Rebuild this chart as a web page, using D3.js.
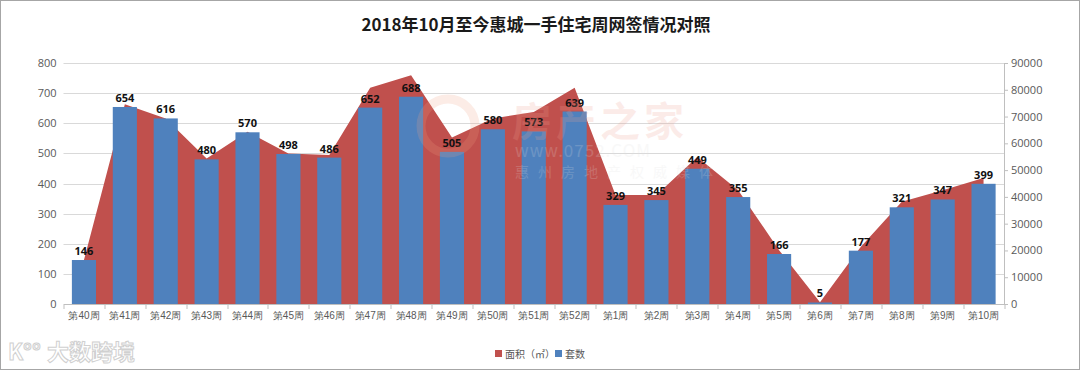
<!DOCTYPE html>
<html>
<head>
<meta charset="utf-8">
<script src="https://cdn.jsdelivr.net/npm/d3@7"></script>
<style>
  body { margin: 0; background: #fff; }
  svg { display: block; font-family: "Microsoft YaHei", "Noto Sans CJK SC", sans-serif; }
</style>
</head>
<body>
<svg id="chart" width="1080" height="371"></svg>
<script>
const weeks = ["第40周", "第41周", "第42周", "第43周", "第44周", "第45周", "第46周", "第47周",
  "第48周", "第49周", "第50周", "第51周", "第52周", "第1周", "第2周", "第3周", "第4周",
  "第5周", "第6周", "第7周", "第8周", "第9周", "第10周"];
// 套数 (left axis)
const units = [146, 654, 616, 480, 570, 498, 486, 652, 688, 505, 580, 573, 639,
  329, 345, 449, 355, 166, 5, 177, 321, 347, 399];
// 面积（㎡） (right axis)
const areas = [16400, 74600, 69300, 54300, 64300, 56200, 55600, 80800, 85400, 62200,
  69300, 71700, 80800, 40700, 40700, 54900, 42500, 20100, 700, 21400, 38200, 42500, 47100];
const leftTicks = [0, 100, 200, 300, 400, 500, 600, 700, 800];
const rightTicks = [0, 10000, 20000, 30000, 40000, 50000, 60000, 70000, 80000, 90000];

const MARGIN = { top: 63, right: 76, bottom: 67, left: 63.5 };
const W = 1080, H = 371;
const width = W - MARGIN.left - MARGIN.right;
const height = H - MARGIN.top - MARGIN.bottom;

const svg = d3.select("#chart");

// frame
svg.append("rect")
  .attr("x", 0.5).attr("y", 0.5)
  .attr("width", W - 1).attr("height", H - 2)
  .attr("fill", "#fff").attr("stroke", "#a6a6a6");

svg.append("text")
  .attr("x", 536).attr("y", 31)
  .attr("text-anchor", "middle")
  .style("font-size", "17px").style("font-weight", "bold").style("fill", "#1a1a1a")
  .text("2018年10月至今惠城一手住宅周网签情况对照");

const g = svg.append("g")
  .attr("transform", "translate(" + MARGIN.left + "," + MARGIN.top + ")");

let x = d3.scaleBand()
  .domain(weeks)
  .range([0, width])
  .paddingInner(0.41)
  .paddingOuter(0.205);

let yL = d3.scaleLinear().domain([0, 800]).range([height, 0]);
let yR = d3.scaleLinear().domain([0, 90000]).range([height, 0]);

// gridlines
g.append("g")
  .selectAll("line")
  .data(leftTicks.slice(1))
  .join("line")
  .attr("x1", 0).attr("x2", width)
  .attr("y1", d => Math.round(yL(d)) + 0.5).attr("y2", d => Math.round(yL(d)) + 0.5)
  .attr("stroke", "#d9d9d9");

// left axis
g.append("g")
  .call(d3.axisLeft(yL).tickValues(leftTicks).tickSize(0).tickPadding(7))
  .call(a => a.select(".domain").remove())
  .selectAll("text")
  .style("font-size", "11px").style("fill", "#595959").style("font-family", "'Open Sans', sans-serif");

// right axis
g.append("g")
  .attr("transform", "translate(" + width + ",0)")
  .call(d3.axisRight(yR).tickValues(rightTicks).tickFormat(d3.format("d")).tickSize(4).tickPadding(3))
  .call(a => a.select(".domain").attr("stroke", "#bfbfbf"))
  .call(a => a.selectAll(".tick line").attr("stroke", "#bfbfbf"))
  .selectAll("text")
  .style("font-size", "11px").style("fill", "#595959").style("font-family", "'Open Sans', sans-serif");

// area (面积)
const area = d3.area()
  .x((d, i) => x(weeks[i]) + x.bandwidth() / 2)
  .y0(height)
  .y1(d => yR(d));
g.append("path")
  .datum(areas)
  .attr("d", area)
  .attr("fill", "#c0504d");

// bars (套数)
g.selectAll(".bar")
  .data(units)
  .join("rect")
  .attr("class", "bar")
  .attr("x", (d, i) => x(weeks[i]))
  .attr("y", d => yL(d))
  .attr("width", x.bandwidth())
  .attr("height", d => height - yL(d))
  .attr("fill", "#4f81bd");

// bar value labels
g.selectAll(".lbl")
  .data(units)
  .join("text")
  .attr("class", "lbl")
  .attr("x", (d, i) => x(weeks[i]) + x.bandwidth() / 2)
  .attr("y", d => yL(d) - 5)
  .attr("text-anchor", "middle")
  .style("font-size", "11px").style("font-weight", "bold").style("fill", "#111")
  .style("font-family", "'Open Sans', sans-serif")
  .text(d => d);

// x axis
g.append("g")
  .attr("transform", "translate(0," + height + ")")
  .call(d3.axisBottom(x).tickSize(0).tickPadding(8))
  .call(a => a.select(".domain").attr("stroke", "#bfbfbf"))
  .selectAll("text")
  .style("font-size", "10px").style("fill", "#595959");

// category separators on x axis
g.append("g")
  .selectAll("line")
  .data(d3.range(weeks.length + 1))
  .join("line")
  .attr("x1", i => Math.round(x.step() * i) + 0.5)
  .attr("x2", i => Math.round(x.step() * i) + 0.5)
  .attr("y1", height).attr("y2", height + 5)
  .attr("stroke", "#bfbfbf");

// watermark, laid over the plot like in the screenshot
const wm = svg.append("g").attr("opacity", 0.2).style("pointer-events", "none");
wm.append("circle").attr("cx", 448).attr("cy", 126).attr("r", 27)
  .attr("fill", "none").attr("stroke", "#f0a080").attr("stroke-width", 9);
wm.append("text").attr("x", 512).attr("y", 136)
  .style("font-size", "40px").style("font-weight", "bold").style("letter-spacing", "4px")
  .style("fill", "#f0a090").text("房产之家");
wm.append("text").attr("x", 515).attr("y", 157)
  .style("font-size", "17px").style("letter-spacing", "1px").style("fill", "#e0e0e0").text("www.0752.COM");
wm.append("text").attr("x", 515).attr("y", 177)
  .style("font-size", "14px").style("letter-spacing", "9px").style("fill", "#e0e0e0").text("惠州房地产权威媒体");

// legend
const legend = svg.append("g").attr("transform", "translate(495,354)");
legend.append("rect").attr("x", 0).attr("y", -4).attr("width", 7).attr("height", 7).attr("fill", "#c0504d");
legend.append("text").attr("x", 10).attr("y", 3.5)
  .style("font-size", "10px").style("fill", "#595959").text("面积（㎡）");
legend.append("rect").attr("x", 60).attr("y", -4).attr("width", 7).attr("height", 7).attr("fill", "#4f81bd");
legend.append("text").attr("x", 70).attr("y", 3.5)
  .style("font-size", "10px").style("fill", "#595959").text("套数");

// corner logo
const logo = svg.append("g").attr("opacity", 0.55);
logo.append("text").attr("x", 8).attr("y", 360)
  .style("font-size", "22px").style("font-weight", "bold").style("fill", "#fff")
  .style("stroke", "#aaa").style("stroke-width", 1).text("K°°");
logo.append("text").attr("x", 47).attr("y", 360)
  .style("font-size", "22px").style("font-weight", "bold").style("fill", "#fff")
  .style("stroke", "#aaa").style("stroke-width", 1).text("大数跨境");
</script>
</body>
</html>
